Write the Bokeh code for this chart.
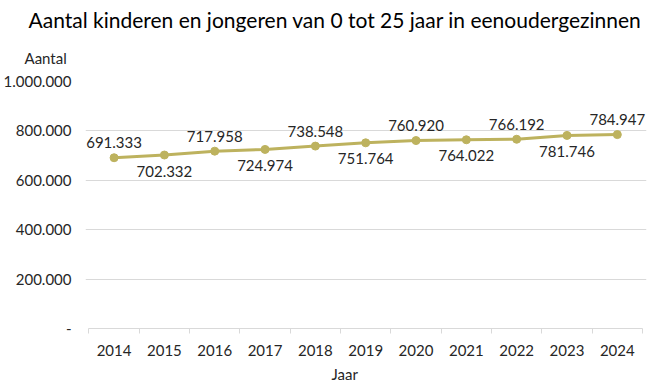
from bokeh.plotting import figure
from bokeh.models import Range1d, FixedTicker, LabelSet, ColumnDataSource, Title
from bokeh.embed import file_html
from bokeh.resources import INLINE
from bokeh.core.properties import value

years = [2014, 2015, 2016, 2017, 2018, 2019, 2020, 2021, 2022, 2023, 2024]
counts = [691333, 702332, 717958, 724974, 738548, 751764, 760920, 764022, 766192, 781746, 784947]
count_labels = ["691.333", "702.332", "717.958", "724.974", "738.548", "751.764",
                "760.920", "764.022", "766.192", "781.746", "784.947"]
y_ticks = [0, 200000, 400000, 600000, 800000, 1000000]
y_tick_labels = ["-", "200.000", "400.000", "600.000", "800.000", "1.000.000"]
title_text = "Aantal kinderen en jongeren van 0 tot 25 jaar in eenoudergezinnen"
y_title = "Aantal"
x_title = "Jaar"

FONT = "Lato"
COLOR = "#BDB25E"
TXT = "#262626"

x_lo, x_hi = years[0] - 0.5, years[-1] + 0.5
p = figure(width=648, height=386, output_backend="svg", toolbar_location=None, title=None,
           x_range=Range1d(x_lo - 0.068, x_hi + 0.08),
           y_range=Range1d(0, 1000000),
           min_border_left=82, min_border_right=2, min_border_top=81, min_border_bottom=57)
p.outline_line_color = None
p.background_fill_color = "white"
p.border_fill_color = "white"

# titles stacked above the frame: nearest first
p.add_layout(Title(text=y_title, align="left", offset=-61, standoff=30,
                   text_font=FONT, text_font_size="15px", text_font_style="normal",
                   text_color=TXT), "above")
p.add_layout(Title(text=title_text, align="left", offset=-57, standoff=0,
                   text_font=FONT, text_font_size="21px", text_font_style="normal",
                   text_color="#000000"), "above")

# x axis
p.xaxis.bounds = (x_lo, x_hi)
p.xaxis.ticker = FixedTicker(ticks=years, minor_ticks=[y - 0.5 for y in years] + [x_hi])
p.xaxis.major_tick_line_color = None
p.xaxis.major_tick_out = 0
p.xaxis.major_tick_in = 0
p.xaxis.minor_tick_line_color = "#D9D9D9"
p.xaxis.minor_tick_out = 5
p.xaxis.minor_tick_in = 0
p.xaxis.axis_line_color = "#D9D9D9"
p.xaxis.major_label_text_font = FONT
p.xaxis.major_label_text_font_size = "15px"
p.xaxis.major_label_text_color = TXT
p.xaxis.major_label_standoff = 11
p.xgrid.grid_line_color = None

p.add_layout(Title(text=x_title, align="left", offset=246, standoff=8,
                   text_font=FONT, text_font_size="15px", text_font_style="normal",
                   text_color=TXT), "below")

# y axis
p.yaxis.ticker = FixedTicker(ticks=y_ticks)
p.yaxis.major_label_overrides = {t: l for t, l in zip(y_ticks, y_tick_labels)}
p.yaxis.axis_line_color = None
p.yaxis.major_tick_line_color = None
p.yaxis.major_tick_out = 0
p.yaxis.major_tick_in = 0
p.yaxis.minor_tick_line_color = None
p.yaxis.major_label_text_font = FONT
p.yaxis.major_label_text_font_size = "15px"
p.yaxis.major_label_text_color = TXT
p.yaxis.major_label_standoff = 14
p.ygrid.grid_line_color = "#D9D9D9"
p.ygrid.grid_line_width = 1

p.line(years, counts, line_color=COLOR, line_width=3)
p.scatter(years, counts, size=8, fill_color=COLOR, line_color=COLOR)

offsets = [15 if i % 2 == 0 else -16 for i in range(len(years))]
src = ColumnDataSource(dict(x=years, y=counts, t=count_labels, dy=offsets))
p.add_layout(LabelSet(x="x", y="y", text="t", y_offset="dy", source=src,
                      text_font=value(FONT), text_font_size="15px", text_color=TXT,
                      text_align="center", text_baseline="middle"))

open("out.html", "w").write(file_html(p, INLINE))
